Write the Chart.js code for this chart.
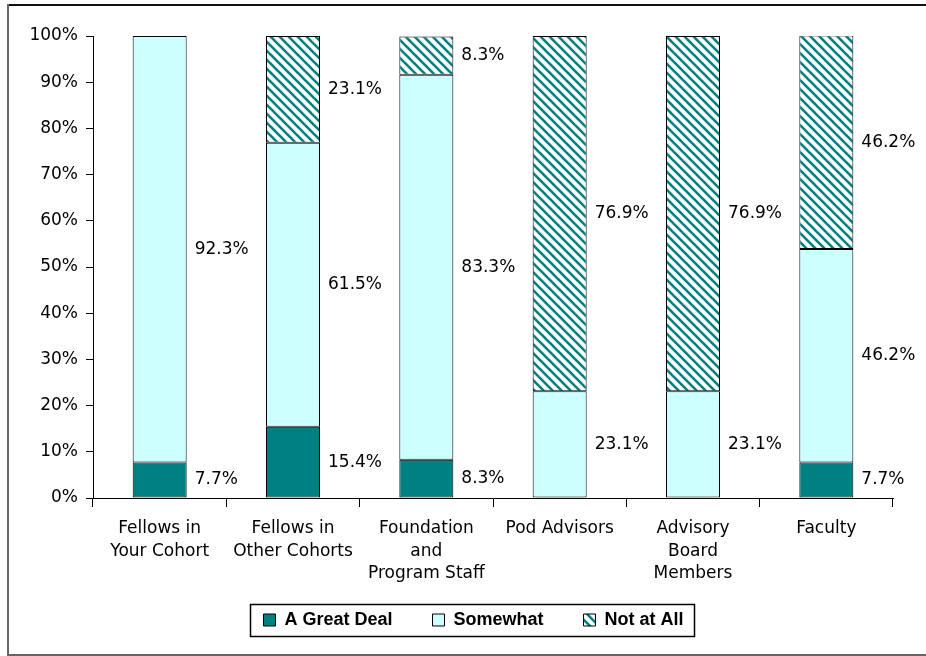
<!DOCTYPE html>
<html>
<head>
<meta charset="utf-8">
<script src="https://cdn.jsdelivr.net/npm/chart.js@4/dist/chart.umd.min.js"></script>
<style>
  html, body { margin: 0; padding: 0; background: #fff; }
  #wrap { width: 926px; height: 656px; position: relative; }
</style>
</head>
<body>
<div id="wrap"><canvas id="c" width="926" height="656"></canvas></div>
<script>
// Survey responses: how much each group helped, in percent of respondents
const categories = [
  ['Fellows in', 'Your Cohort'],
  ['Fellows in', 'Other Cohorts'],
  ['Foundation', 'and', 'Program Staff'],
  'Pod Advisors',
  ['Advisory', 'Board', 'Members'],
  'Faculty'
];
const greatDeal = [7.7, 15.4, 8.3, null, null, 7.7];
const somewhat  = [92.3, 61.5, 83.3, 23.1, 23.1, 46.2];
const notAtAll  = [null, 23.1, 8.3, 76.9, 76.9, 46.2];
const seriesNames = ['A Great Deal', 'Somewhat', 'Not at All'];
const yTicks = [0, 10, 20, 30, 40, 50, 60, 70, 80, 90, 100];

const TEAL = '#008080';
const CYAN = '#CCFFFF';
const BASE_FONT = 'DejaVu Sans';
const LEGEND_PAD = 40;

// Diagonal teal stripes on white
function makeHatch() {
  const s = 9;
  const c = document.createElement('canvas');
  c.width = s; c.height = s;
  const g = c.getContext('2d');
  g.fillStyle = '#ffffff';
  g.fillRect(0, 0, s, s);
  g.strokeStyle = TEAL;
  g.lineWidth = 2.6;
  for (const k of [-s, 0, s]) {
    g.beginPath();
    g.moveTo(-2, -2 + k);
    g.lineTo(s + 2, s + 2 + k);
    g.stroke();
  }
  return g.createPattern(c, 'repeat');
}
const hatch = makeHatch();

// Value labels to the right of each stacked segment
const segmentLabels = {
  id: 'segmentLabels',
  afterDatasetsDraw(chart) {
    const ctx = chart.ctx;
    ctx.save();
    ctx.font = '17px "' + BASE_FONT + '"';
    ctx.fillStyle = '#000';
    ctx.textAlign = 'left';
    ctx.textBaseline = 'middle';
    chart.data.datasets.forEach((ds, di) => {
      const meta = chart.getDatasetMeta(di);
      meta.data.forEach((el, i) => {
        const v = ds.data[i];
        if (v == null) return;
        const p = el.getProps(['x', 'y', 'base', 'width'], true);
        const y = (p.y + p.base) / 2;
        ctx.fillText(v.toFixed(1) + '%', p.x + p.width / 2 + 8, y);
      });
    });
    ctx.restore();
  }
};

// Outer frame and the box around the legend
const frames = {
  id: 'frames',
  afterLayout(chart) {
    const lg = chart.legend;
    if (!lg) return;
    const dx = 473.5 - (lg.left + lg.right) / 2;
    lg.left += dx;
    lg.right += dx;
    const dy = 620 - (lg.top + LEGEND_PAD + 9);
    lg.top += dy;
    lg.bottom += dy;
  },
  afterDraw(chart) {
    const ctx = chart.ctx;
    ctx.save();
    ctx.lineWidth = 2;
    ctx.strokeStyle = '#111';
    ctx.beginPath(); ctx.moveTo(7, 5); ctx.lineTo(926, 5); ctx.stroke();
    ctx.strokeStyle = '#666';
    ctx.beginPath(); ctx.moveTo(8, 4); ctx.lineTo(8, 655); ctx.lineTo(926, 655); ctx.stroke();
    const hb = chart.legend && chart.legend.legendHitBoxes;
    if (hb && hb.length) {
      const first = hb[0], last = hb[hb.length - 1];
      const cy = first.top + first.height / 2;
      const x0 = Math.round(first.left - 13) + 0.5;
      const x1 = Math.round(last.left + last.width + 10) + 0.5;
      ctx.lineWidth = 1.5;
      ctx.strokeStyle = '#000';
      ctx.strokeRect(x0, Math.round(cy - 16) + 0.5, x1 - x0, 32);
    }
    ctx.restore();
  }
};

const common = { borderColor: '#000', borderWidth: 1, borderSkipped: false, barPercentage: 0.81, categoryPercentage: 0.5 };

new Chart(document.getElementById('c'), {
  type: 'bar',
  data: {
    labels: categories,
    datasets: [
      Object.assign({ label: seriesNames[0], data: greatDeal, backgroundColor: TEAL }, common),
      Object.assign({ label: seriesNames[1], data: somewhat, backgroundColor: CYAN }, common),
      Object.assign({ label: seriesNames[2], data: notAtAll, backgroundColor: hatch }, common)
    ]
  },
  options: {
    responsive: false,
    animation: false,
    devicePixelRatio: 1,
    layout: { padding: { left: 0, right: 33, top: 36, bottom: 0 } },
    plugins: {
      tooltip: { enabled: false },
      legend: {
        position: 'bottom',
        labels: {
          boxWidth: 12,
          boxHeight: 12,
          padding: LEGEND_PAD,
          color: '#000',
          font: { family: 'Liberation Sans', size: 18, weight: 'bold' }
        }
      }
    },
    scales: {
      x: {
        stacked: true,
        border: { color: '#000', width: 1 },
        grid: { drawOnChartArea: false, drawTicks: true, tickLength: 9, color: '#000', offset: true },
        ticks: {
          color: '#000',
          padding: 10,
          maxRotation: 0,
          autoSkip: false,
          font: { family: BASE_FONT, size: 17, lineHeight: 1.34 }
        },
        afterFit(scale) { scale.height = 90; }
      },
      y: {
        stacked: true,
        min: 0,
        max: 100,
        border: { color: '#000', width: 1 },
        grid: { drawOnChartArea: false, drawTicks: true, tickLength: 7, color: '#000' },
        afterBuildTicks(scale) { scale.ticks = yTicks.map(v => ({ value: v })); },
        ticks: {
          color: '#000',
          padding: 8,
          font: { family: BASE_FONT, size: 17 },
          callback: v => v + '%'
        },
        afterFit(scale) { scale.width = 93; }
      }
    }
  },
  plugins: [segmentLabels, frames]
});
</script>
</body>
</html>
